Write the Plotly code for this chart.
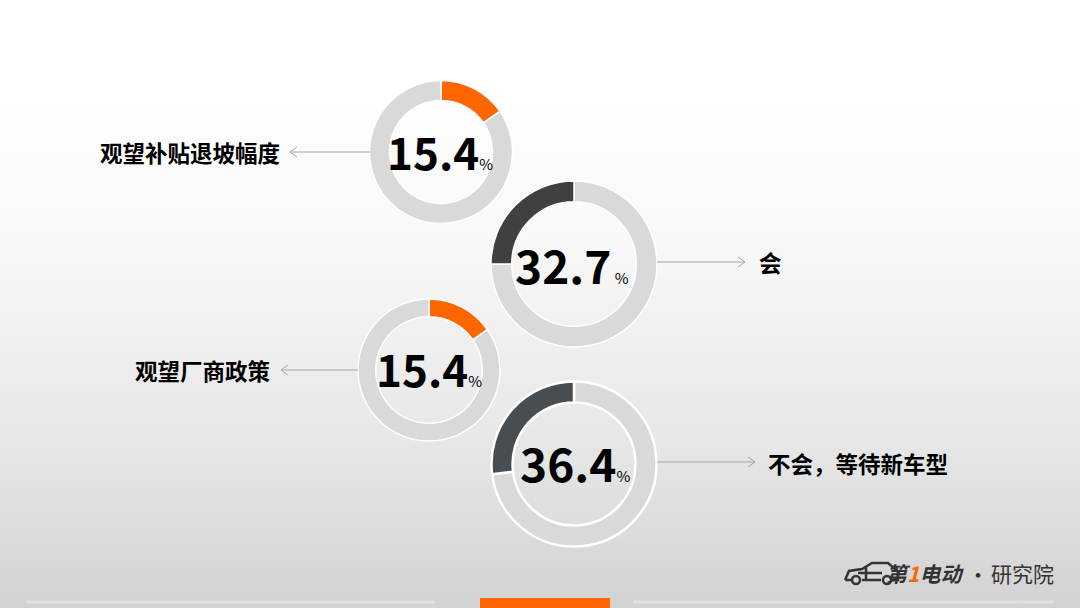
import plotly.graph_objects as go

W, H = 1080, 608

# ---- data ----
labels = ["观望补贴退坡幅度", "会", "观望厂商政策", "不会，等待新车型"]
shares_text = ["15.4", "32.7", "15.4", "36.4"]
arc_shares = [15.4, 25.0, 15.4, 27.0]          # arc length as drawn in the picture (%)
ring_colors = ["#ff6600", "#404040", "#ff6600", "#474d51"]
track_color = "#d9d9d9"
arc_on_left = [False, True, False, True]

# ---- layout helpers (pixel geometry) ----
centers = [(441, 152), (574, 264), (429, 370), (574, 464)]
radii = [71.5, 83, 71, 82.5]
holes = [0.72, 0.75, 0.75, 0.745]
line_w = [1.5, 1.5, 1.5, 2.5]

fig = go.Figure()

# background gradient
fig.add_trace(go.Scatter(
    x=[0, 1, 1, 0, 0], y=[0, 0, 1, 1, 0], mode="lines", line=dict(width=0),
    fill="toself", hoverinfo="skip", showlegend=False,
    fillgradient=dict(type="vertical",
                      colorscale=[[0, "#d2d2d2"], [0.26, "#e6e6e6"], [0.6, "#f8f8f8"],
                                  [0.84, "#ffffff"], [1, "#ffffff"]]),
))

for i in range(4):
    cx, cy = centers[i]
    r = radii[i]
    vals = [arc_shares[i], 100 - arc_shares[i]]
    cols = [ring_colors[i], track_color]
    if arc_on_left[i]:
        vals, cols = vals[::-1], cols[::-1]
    fig.add_trace(go.Pie(
        values=vals,
        sort=False, direction="clockwise", rotation=0,
        hole=holes[i], textinfo="none", hoverinfo="skip", showlegend=False,
        marker=dict(colors=cols, line=dict(color="white", width=line_w[i])),
        domain=dict(x=[(cx - r) / W, (cx + r) / W],
                    y=[1 - (cy + r) / H, 1 - (cy - r) / H]),
    ))

annotations = []
num_sizes = [44, 46, 44, 46]
num_pos = [(440, 151), (572, 264), (429, 368), (575, 462)]
pct_sep = ["", " ", "", ""]
for i in range(4):
    x, y = num_pos[i]
    annotations.append(dict(
        x=x / W, y=1 - y / H, xref="paper", yref="paper", showarrow=False,
        xanchor="center", yanchor="middle",
        text=f"<b>{shares_text[i]}</b><span style='font-size:15px'>{pct_sep[i]}%</span>",
        font=dict(family="Noto Sans CJK SC", size=num_sizes[i], color="#000000"),
    ))

# category labels
label_pos = [(282, 152, "right"), (757, 262, "left"), (272, 370, "right"), (766, 463, "left")]
for i in range(4):
    x, y, anc = label_pos[i]
    annotations.append(dict(
        x=x / W, y=1 - y / H, xref="paper", yref="paper", showarrow=False,
        xanchor=anc, yanchor="middle", text=f"<b>{labels[i]}</b>",
        font=dict(family="Noto Sans CJK SC", size=22.5, color="#000000"),
    ))

# logo
annotations.append(dict(
    x=966 / W, y=1 - 573 / H, xref="paper", yref="paper", showarrow=False,
    xanchor="right", yanchor="middle",
    text="<b><i>第<span style='color:#ff6600'>1</span>电动</i></b>",
    font=dict(family="Noto Sans CJK SC", size=21, color="#333333"),
))
annotations.append(dict(
    x=978 / W, y=1 - 573 / H, xref="paper", yref="paper", showarrow=False,
    xanchor="center", yanchor="middle", text="•",
    font=dict(family="Noto Sans CJK SC", size=22, color="#333333"),
))
annotations.append(dict(
    x=989 / W, y=1 - 573 / H, xref="paper", yref="paper", showarrow=False,
    xanchor="left", yanchor="middle", text="研究院",
    font=dict(family="Noto Sans CJK SC", size=21, color="#333333"),
))

shapes = []
arrow_col = "#a6a6a6"
# arrows: (x_start, x_end(head), y)
arrows = [(370, 290, 152), (657, 745, 262), (358, 281, 370), (657, 755, 462)]
for xs, xe, y in arrows:
    shapes.append(dict(type="line", xref="paper", yref="paper",
                       x0=xs / W, x1=xe / W, y0=1 - y / H, y1=1 - y / H,
                       line=dict(color=arrow_col, width=1)))
    d = 7 if xe > xs else -7
    path = (f"M {(xe - d) / W},{1 - (y - 5) / H} L {xe / W},{1 - y / H} "
            f"L {(xe - d) / W},{1 - (y + 5) / H}")
    shapes.append(dict(type="path", xref="paper", yref="paper", path=path,
                       line=dict(color=arrow_col, width=1)))

# simple car outline for logo
car = ("M 845,580 L 849,571 L 862,569 L 872,563 L 888,563 L 896,570 L 898,572 "
       "L 898,580 L 892,580 M 881,580 L 862,580 M 851,580 L 845,580 "
       "M 858,573 L 882,573 M 866,567 L 866,579")
def to_paper(path):
    out = []
    for tok in path.split():
        if "," in tok:
            a, b = tok.split(",")
            out.append(f"{float(a) / W},{1 - float(b) / H}")
        else:
            out.append(tok)
    return " ".join(out)
shapes.append(dict(type="path", xref="paper", yref="paper", path=to_paper(car),
                   line=dict(color="#333333", width=2.5)))
for cxw in (856, 887):
    shapes.append(dict(type="circle", xref="paper", yref="paper",
                       x0=(cxw - 4) / W, x1=(cxw + 4) / W,
                       y0=1 - (584) / H, y1=1 - (576) / H,
                       line=dict(color="#333333", width=2.5)))

# bottom bars
shapes.append(dict(type="line", xref="paper", yref="paper", x0=27 / W, x1=435 / W,
                   y0=1 - 602 / H, y1=1 - 602 / H, line=dict(color="#e2e2e2", width=3)))
shapes.append(dict(type="line", xref="paper", yref="paper", x0=633 / W, x1=1053 / W,
                   y0=1 - 602 / H, y1=1 - 602 / H, line=dict(color="#e2e2e2", width=3)))
shapes.append(dict(type="rect", xref="paper", yref="paper", x0=480 / W, x1=610 / W,
                   y0=0, y1=1 - 598 / H, fillcolor="#ff6600", line=dict(width=0)))

fig.update_layout(
    width=W, height=H, margin=dict(l=0, r=0, t=0, b=0),
    paper_bgcolor="#ffffff", plot_bgcolor="rgba(0,0,0,0)",
    xaxis=dict(range=[0, 1], visible=False, domain=[0, 1], fixedrange=True),
    yaxis=dict(range=[0, 1], visible=False, domain=[0, 1], fixedrange=True),
    annotations=annotations, shapes=shapes,
)

fig.write_html(
    "out.html",
    config={"displayModeBar": False},
    post_script="document.body.style.margin='0';document.body.style.overflow='hidden';",
)
